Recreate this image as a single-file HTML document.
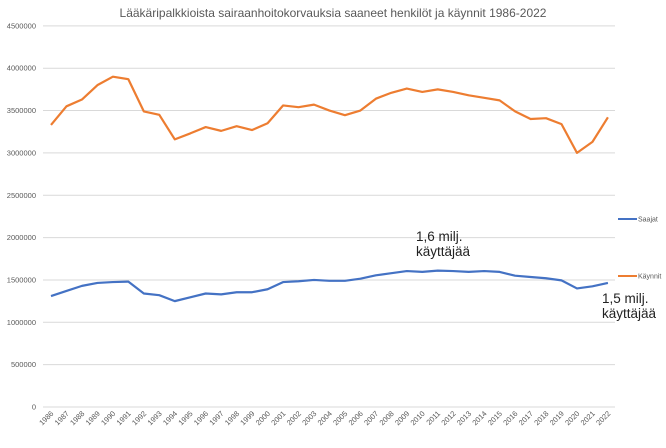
<!DOCTYPE html>
<html><head><meta charset="utf-8"><style>
html,body{margin:0;padding:0;background:#fff;}
svg{display:block;font-family:"Liberation Sans",sans-serif;}
</style></head><body>
<svg id="c" width="666" height="448" viewBox="0 0 666 448" xmlns="http://www.w3.org/2000/svg">
<text x="333" y="17" text-anchor="middle" font-size="12" fill="#595959">Lääkäripalkkioista sairaanhoitokorvauksia saaneet henkilöt ja käynnit 1986-2022</text>
<g id="grid"></g>
<g id="ylab" font-size="7.5" fill="#595959" text-anchor="end"></g>
<g id="xlab" font-size="7.5" fill="#595959"></g>
<polyline id="o" fill="none" stroke="#ED7D31" stroke-width="2.2" stroke-linejoin="round"/>
<polyline id="b" fill="none" stroke="#4472C4" stroke-width="2.2" stroke-linejoin="round"/>
<line x1="618" y1="219" x2="637" y2="219" stroke="#4472C4" stroke-width="2"/>
<text x="638" y="221.5" font-size="7" fill="#595959">Saajat</text>
<line x1="618" y1="276" x2="637" y2="276" stroke="#ED7D31" stroke-width="2"/>
<text x="638" y="278.5" font-size="7" fill="#595959">Käynnit</text>
<text x="416" y="241" font-size="13.5" fill="#222">1,6 milj.</text>
<text x="416" y="256" font-size="13.5" fill="#222">käyttäjää</text>
<text x="602" y="303" font-size="13.5" fill="#222">1,5 milj.</text>
<text x="602" y="318" font-size="13.5" fill="#222">käyttäjää</text>
</svg>
<script>
var ns="http://www.w3.org/2000/svg";
function Y(v){return 407-v/500000*42.35;}
var g=document.getElementById('grid'),yl=document.getElementById('ylab'),xl=document.getElementById('xlab');
for(var i=0;i<=9;i++){var v=i*500000,y=Y(v);
var l=document.createElementNS(ns,'line');l.setAttribute('x1',43);l.setAttribute('x2',615);l.setAttribute('y1',y);l.setAttribute('y2',y);l.setAttribute('stroke','#d9d9d9');l.setAttribute('stroke-width','1');g.appendChild(l);
var t=document.createElementNS(ns,'text');t.setAttribute('x',36);t.setAttribute('y',y+2.5);t.textContent=String(v);yl.appendChild(t);}
var o=[3330,3550,3630,3800,3900,3870,3490,3450,3160,3230,3305,3260,3315,3270,3350,3560,3540,3570,3500,3445,3500,3640,3710,3760,3720,3750,3720,3680,3650,3620,3490,3400,3410,3340,3000,3130,3420];
var b=[1310,1370,1430,1465,1475,1480,1340,1320,1250,1295,1340,1330,1355,1355,1390,1475,1485,1500,1490,1490,1515,1555,1580,1605,1595,1610,1605,1595,1605,1595,1550,1535,1520,1495,1400,1425,1465];
var po=[],pb=[];
for(var k=0;k<37;k++){var x=51+k*15.47;po.push(x+','+Y(o[k]*1000));pb.push(x+','+Y(b[k]*1000));
var t=document.createElementNS(ns,'text');t.setAttribute('transform','translate('+(x+3)+',414) rotate(-45)');t.setAttribute('text-anchor','end');t.textContent=1986+k;xl.appendChild(t);}
document.getElementById('o').setAttribute('points',po.join(' '));
document.getElementById('b').setAttribute('points',pb.join(' '));
</script>
</body></html>
